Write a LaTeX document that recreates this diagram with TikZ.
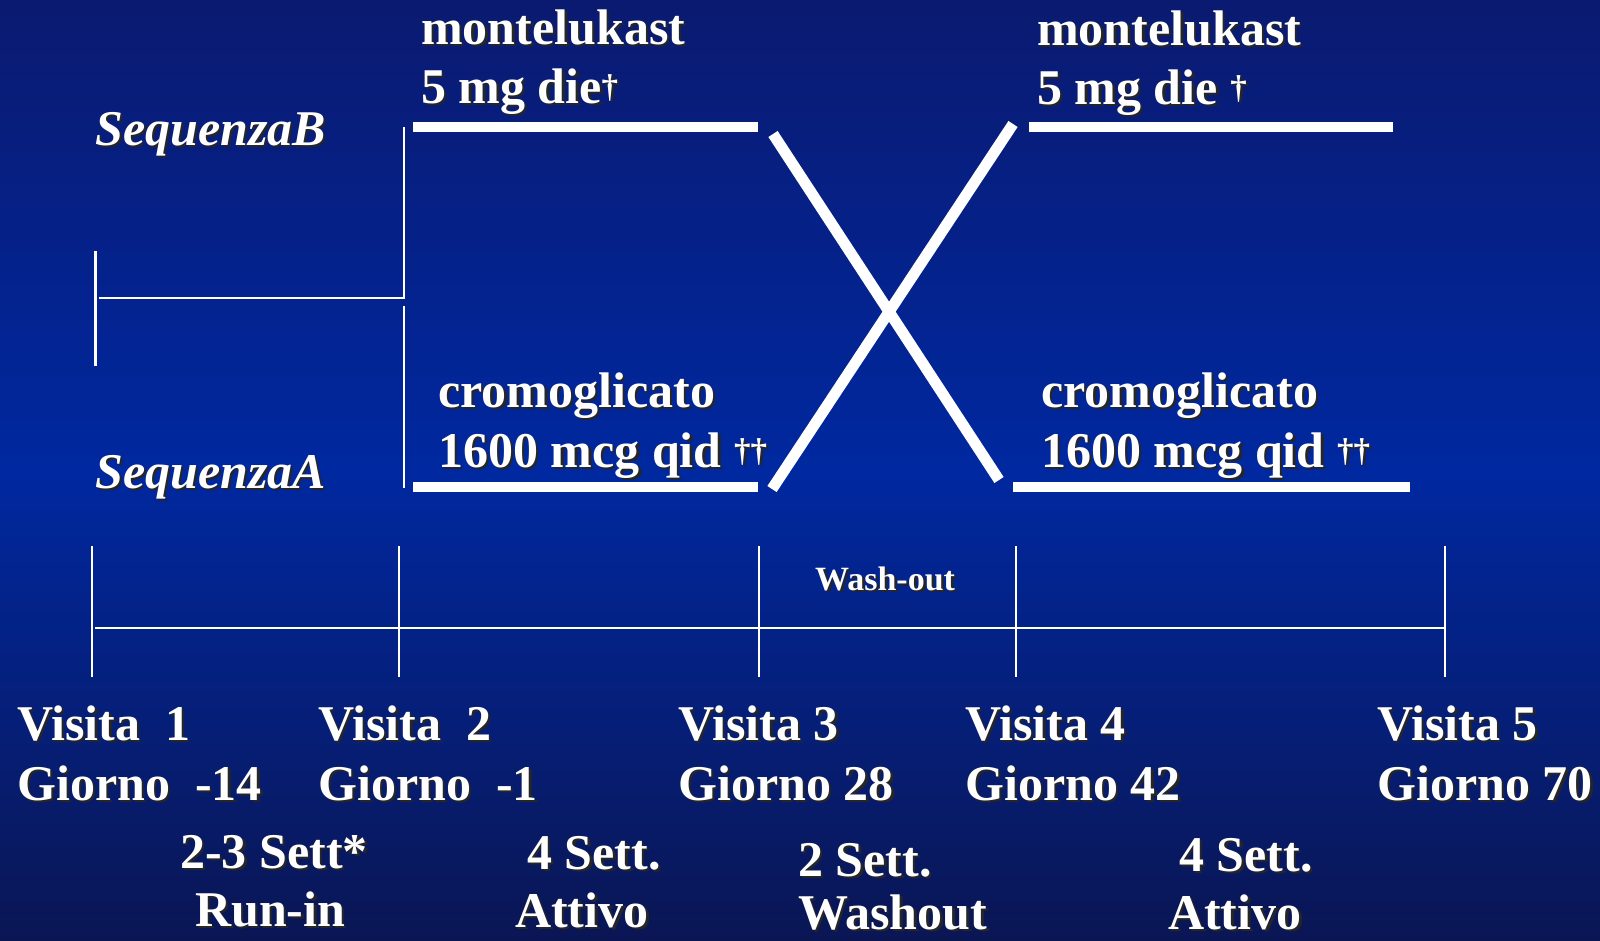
\documentclass[tikz,border=0pt]{standalone}
\usepackage{fontspec}
\setmainfont{Liberation Serif}
\definecolor{bgtop}{RGB}{10,26,112}
\definecolor{bgmid}{RGB}{0,40,160}
\definecolor{bgbot}{RGB}{10,22,84}
\tikzset{
  txt/.style={anchor=base west, inner sep=0pt, text=white,
              font=\bfseries\fontsize{50}{60}\selectfont},
  txtshadow/.style={txt, text=black!85, xshift=2.5pt, yshift=-2.5pt},
  armbar/.style={draw=white, line width=10pt},
  crossbar/.style={draw=white, line width=11pt},
  thinline/.style={draw=white, line width=2.5pt},
}
% white label with a dark drop shadow: [font], name, position, text
\newcommand\shadowlabel[4][]{%
  \node[txtshadow,#1] at (#3) {#4};
  \node[txt,#1] (#2) at (#3) {#4};}
\newcommand\onedagger{{\fontsize{33}{33}\selectfont\raisebox{6pt}{†}}}
\newcommand\twodaggers{{\fontsize{33}{33}\selectfont\raisebox{6pt}{††}}}

\begin{document}
\begin{tikzpicture}[x=1pt,y=-1pt]
\useasboundingbox (0,0) rectangle (1600,940);
\shade[top color=bgtop, bottom color=bgbot, middle color=bgmid] (0,0) rectangle (1600,940);

% treatment arms
\coordinate (tl1) at (413,127);  \coordinate (tl2) at (758,127);
\coordinate (bl1) at (413,487);  \coordinate (bl2) at (758,487);
\coordinate (tr1) at (1029,127); \coordinate (tr2) at (1393,127);
\coordinate (br1) at (1013,487); \coordinate (br2) at (1410,487);
\draw[armbar] (tl1) -- (tl2);
\draw[armbar] (bl1) -- (bl2);
\draw[armbar] (tr1) -- (tr2);
\draw[armbar] (br1) -- (br2);

% crossover
\coordinate (xa1) at (773,134);  \coordinate (xa2) at (999,480);
\coordinate (xb1) at (772,489);  \coordinate (xb2) at (1013,124);
\draw[crossbar] (xa1) -- (xa2);
\draw[crossbar] (xb1) -- (xb2);

% randomisation bracket
\coordinate (r1) at (95.5,251); \coordinate (r2) at (95.5,366);
\coordinate (h1) at (99,298);
\coordinate (v1) at (404,127);  \coordinate (v2) at (404,298);
\coordinate (v3) at (404,306);  \coordinate (v4) at (404,488);
\draw[thinline] (r1) -- (r2);
\draw[thinline] (v1) -- (v2) -- (h1);
\draw[thinline] (v3) -- (v4);

% timeline
\foreach \n/\x in {1/92,2/399,3/759,4/1016,5/1445}{
  \coordinate (tk\n a) at (\x,546);
  \coordinate (tk\n b) at (\x,677);
  \draw[thinline] (tk\n a) -- (tk\n b);
}
\coordinate (axs) at (95,628); \coordinate (axe) at (1445,628);
\draw[thinline] (axs) -- (axe);

% arm labels
\shadowlabel{montL}{421,44}{montelukast}
\shadowlabel{doseML}{421,103}{5 mg die\onedagger}
\shadowlabel{montR}{1037,45}{montelukast}
\shadowlabel{doseMR}{1037,104}{5 mg die \onedagger}
\shadowlabel{cromL}{438,407}{cromoglicato}
\shadowlabel{doseCL}{438,467}{1600 mcg qid \twodaggers}
\shadowlabel{cromR}{1041,407}{cromoglicato}
\shadowlabel{doseCR}{1041,467}{1600 mcg qid \twodaggers}
\shadowlabel[font=\bfseries\itshape\fontsize{50}{60}\selectfont]{seqB}{95,145}{SequenzaB}
\shadowlabel[font=\bfseries\itshape\fontsize{50}{60}\selectfont]{seqA}{95,488}{SequenzaA}
\shadowlabel[font=\bfseries\fontsize{34}{40}\selectfont]{wash}{815,590}{Wash-out}

% visits
\shadowlabel{vis1}{17,740}{Visita\ \ 1}
\shadowlabel{day1}{17,800}{Giorno\ \ -14}
\shadowlabel{vis2}{318,740}{Visita\ \ 2}
\shadowlabel{day2}{318,800}{Giorno\ \ -1}
\shadowlabel{vis3}{678,740}{Visita 3}
\shadowlabel{day3}{678,800}{Giorno 28}
\shadowlabel{vis4}{965,740}{Visita 4}
\shadowlabel{day4}{965,800}{Giorno 42}
\shadowlabel{vis5}{1377,740}{Visita 5}
\shadowlabel{day5}{1377,800}{Giorno 70}

% periods
\shadowlabel{per1a}{180,868}{2-3 Sett*}
\shadowlabel{per1b}{195,926}{Run-in}
\shadowlabel{per2a}{527,869}{4 Sett.}
\shadowlabel{per2b}{515,927}{Attivo}
\shadowlabel{per3a}{798,876}{2 Sett.}
\shadowlabel{per3b}{798,929}{Washout}
\shadowlabel{per4a}{1179,871}{4 Sett.}
\shadowlabel{per4b}{1168,929}{Attivo}
\end{tikzpicture}
\end{document}
